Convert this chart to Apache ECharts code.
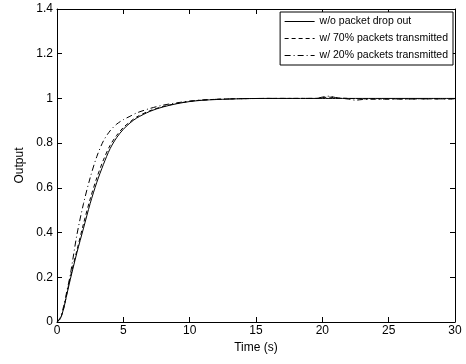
<!DOCTYPE html>
<html>
<head>
<meta charset="utf-8">
<script src="https://cdn.jsdelivr.net/npm/echarts@6/dist/echarts.min.js"></script>
<style>
  html, body { margin: 0; padding: 0; background: #fff; }
  #chart { width: 466px; height: 364px; }
</style>
</head>
<body>
<div id="chart"></div>
<script>
// time samples (s)
var time = [0, 0.25, 0.5, 0.75, 1, 1.5, 2, 2.5, 3, 3.5, 4, 4.5, 5, 5.5, 6, 7, 8, 9, 10, 11, 12, 13, 14, 16, 18, 19.5, 20, 20.5, 21, 22, 22.5, 23, 24, 26, 28, 30];
// output
var noDrop = [0, 0.015, 0.06, 0.125, 0.19, 0.31, 0.42, 0.53, 0.625, 0.705, 0.775, 0.825, 0.862, 0.89, 0.912, 0.942, 0.962, 0.976, 0.986, 0.992, 0.995, 0.997, 0.999, 1, 1, 1, 1, 1, 1, 1, 1, 1, 1, 1, 1, 1];
var pct70 = [0, 0.015, 0.06, 0.13, 0.2, 0.32, 0.44, 0.55, 0.645, 0.725, 0.79, 0.835, 0.87, 0.895, 0.917, 0.945, 0.964, 0.977, 0.987, 0.993, 0.996, 0.998, 0.999, 1, 1, 1, 1.003, 1.006, 1.003, 1, 0.999, 0.998, 0.998, 0.998, 0.998, 0.998];
var pct20 = [0, 0.02, 0.07, 0.14, 0.21, 0.39, 0.53, 0.645, 0.74, 0.81, 0.855, 0.885, 0.905, 0.92, 0.935, 0.955, 0.97, 0.98, 0.988, 0.993, 0.996, 0.998, 0.999, 1, 1, 1, 1.006, 1.01, 1.004, 0.997, 0.992, 0.995, 0.997, 0.997, 0.998, 0.998];
var names = ['w/o packet drop out', 'w/ 70% packets transmitted', 'w/ 20% packets transmitted'];
var xTicks = [0, 30, 5];
var yTicks = [0, 1.4, 0.2];

var font = 'Liberation Sans, Arial, sans-serif';

function pairs(vals) {
    return time.map(function (t, i) { return [t, vals[i]]; });
}

function frameAxis(extra) {
    var base = {
        type: 'value',
        axisLine: { show: true, onZero: false, lineStyle: { color: '#000', width: 1 } },
        axisTick: { show: true, inside: true, length: 5, lineStyle: { color: '#000' } },
        splitLine: { show: false },
        axisLabel: { show: false }
    };
    return Object.assign(base, extra);
}

var chart = echarts.init(document.getElementById('chart'));
chart.setOption({
    backgroundColor: '#fff',
    animation: false,
    textStyle: { fontFamily: font, color: '#000' },
    grid: { left: 57, right: 11, top: 9, bottom: 42, containLabel: false },
    legend: {
        data: names,
        orient: 'vertical',
        right: 13,
        top: 12,
        itemWidth: 30,
        itemHeight: 12,
        itemGap: 6,
        padding: [4, 5, 4, 4],
        backgroundColor: '#fff',
        borderColor: '#000',
        borderWidth: 1,
        borderRadius: 0,
        itemStyle: { opacity: 0 },
        lineStyle: { width: 1 },
        textStyle: { fontFamily: font, fontSize: 10.5, color: '#000' }
    },
    xAxis: [
        frameAxis({
            min: xTicks[0], max: xTicks[1], interval: xTicks[2],
            position: 'bottom',
            name: 'Time (s)', nameLocation: 'middle', nameGap: 20,
            nameTextStyle: { fontFamily: font, fontSize: 12, color: '#000' },
            axisLabel: { show: true, margin: 3, fontSize: 12, color: '#000', fontFamily: font }
        }),
        frameAxis({ min: xTicks[0], max: xTicks[1], interval: xTicks[2], position: 'top' })
    ],
    yAxis: [
        frameAxis({
            min: yTicks[0], max: yTicks[1], interval: yTicks[2],
            position: 'left',
            name: 'Output', nameLocation: 'middle', nameGap: 22,
            nameTextStyle: { fontFamily: font, fontSize: 12, color: '#000' },
            axisLabel: { show: true, margin: 4, fontSize: 12, color: '#000', fontFamily: font,
                formatter: function (v) { return String(+v.toFixed(1)); } }
        }),
        frameAxis({ min: yTicks[0], max: yTicks[1], interval: yTicks[2], position: 'right' })
    ],
    series: [
        {
            name: names[0], type: 'line', data: pairs(noDrop),
            symbol: 'none', smooth: 0.3, color: '#000',
            lineStyle: { color: '#000', width: 1, type: 'solid' }
        },
        {
            name: names[1], type: 'line', data: pairs(pct70),
            symbol: 'none', smooth: 0.3, color: '#000',
            lineStyle: { color: '#000', width: 1, type: [4, 3] }
        },
        {
            name: names[2], type: 'line', data: pairs(pct20),
            symbol: 'none', smooth: 0.3, color: '#000',
            lineStyle: { color: '#000', width: 1, type: [6, 3, 1, 3] }
        }
    ]
});
</script>
</body>
</html>
